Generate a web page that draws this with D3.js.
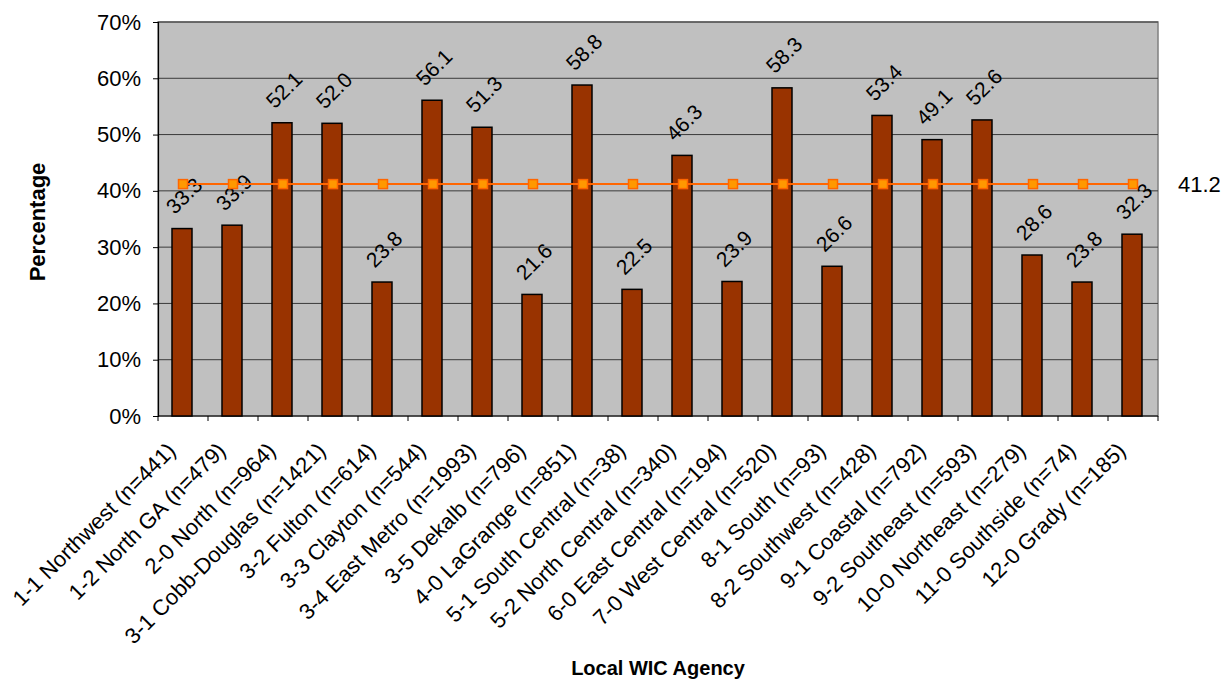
<!DOCTYPE html>
<html>
<head>
<meta charset="utf-8">
<script src="https://cdn.jsdelivr.net/npm/d3@7"></script>
<style>
  html, body { margin: 0; padding: 0; background: #ffffff; }
  svg { display: block; font-family: "Liberation Sans", Arial, sans-serif; }
</style>
</head>
<body>
<svg id="chart" width="1231" height="681"></svg>
<script>
// Local WIC agencies, with sample sizes
const categories = [
  "1-1 Northwest (n=441)", "1-2 North GA (n=479)", "2-0 North (n=964)",
  "3-1 Cobb-Douglas (n=1421)", "3-2 Fulton (n=614)", "3-3 Clayton (n=544)",
  "3-4 East Metro (n=1993)", "3-5 Dekalb (n=796)", "4-0 LaGrange (n=851)",
  "5-1 South Central (n=38)", "5-2 North Central (n=340)", "6-0 East Central (n=194)",
  "7-0 West Central (n=520)", "8-1 South (n=93)", "8-2 Southwest (n=428)",
  "9-1 Coastal (n=792)", "9-2 Southeast (n=593)", "10-0 Northeast (n=279)",
  "11-0 Southside (n=74)", "12-0 Grady (n=185)"
];
// Percentage per agency
const agencyValues = [
  33.3, 33.9, 52.1, 52.0, 23.8, 56.1, 51.3, 21.6, 58.8, 22.5,
  46.3, 23.9, 58.3, 26.6, 53.4, 49.1, 52.6, 28.6, 23.8, 32.3
];
// State-wide average, repeated across every agency
const stateAverage = 41.2;
const averageValues = categories.map(() => stateAverage);
const yTicks = [0, 10, 20, 30, 40, 50, 60, 70];

const svg = d3.select("#chart");
const plot = { left: 158, right: 1158, top: 22, bottom: 416 };

const x = d3.scaleBand()
  .domain(categories)
  .range([plot.left, plot.right])
  .paddingInner(0.6)
  .paddingOuter(0.3);
const y = d3.scaleLinear().domain([0, 70]).range([plot.bottom, plot.top]);
const step = x.step();
const cx = c => x(c) + x.bandwidth() / 2;

// Plot background
svg.append("rect")
  .attr("x", plot.left).attr("y", plot.top)
  .attr("width", plot.right - plot.left).attr("height", plot.bottom - plot.top)
  .attr("fill", "#c0c0c0").attr("stroke", "#808080").attr("stroke-width", 1.5);

// Horizontal gridlines
svg.append("g").selectAll("line").data(yTicks.slice(1)).join("line")
  .attr("x1", plot.left).attr("x2", plot.right)
  .attr("y1", d => y(d)).attr("y2", d => y(d))
  .attr("stroke", "#3a3a3a").attr("stroke-width", 1);

// Y axis
const yAxis = svg.append("g")
  .attr("transform", `translate(${plot.left},0)`)
  .call(d3.axisLeft(y).tickValues(yTicks).tickFormat(d => d + "%").tickSize(5).tickPadding(12));
yAxis.select(".domain").attr("stroke", "#000").attr("stroke-width", 1.2);
yAxis.selectAll(".tick line").attr("stroke", "#000");
yAxis.selectAll("text").attr("font-size", 22).attr("fill", "#000")
  .attr("font-family", "Liberation Sans, Arial, sans-serif");

// X axis line and tick marks between categories
const xg = svg.append("g");
xg.append("line")
  .attr("x1", plot.left).attr("x2", plot.right)
  .attr("y1", plot.bottom).attr("y2", plot.bottom)
  .attr("stroke", "#000").attr("stroke-width", 1.2);
xg.selectAll("line.tick").data(d3.range(categories.length + 1)).join("line")
  .attr("class", "tick")
  .attr("x1", i => plot.left + i * step).attr("x2", i => plot.left + i * step)
  .attr("y1", plot.bottom).attr("y2", plot.bottom + 5)
  .attr("stroke", "#000");

// Category labels, rotated
xg.selectAll("text").data(categories).join("text")
  .attr("transform", d => `translate(${cx(d) - 6},${plot.bottom + 36}) rotate(-45)`)
  .attr("text-anchor", "end")
  .attr("font-size", 22)
  .attr("fill", "#000")
  .text(d => d);

// Bars
svg.append("g").selectAll("rect").data(agencyValues).join("rect")
  .attr("x", (d, i) => x(categories[i]) - 1)
  .attr("y", d => y(d))
  .attr("width", x.bandwidth())
  .attr("height", d => y(0) - y(d))
  .attr("fill", "#993300")
  .attr("stroke", "#000")
  .attr("stroke-width", 1.5);

// Bar value labels, rotated
svg.append("g").selectAll("text").data(agencyValues).join("text")
  .attr("transform", (d, i) => `translate(${cx(categories[i]) + 1},${y(d) - 33}) rotate(-45)`)
  .attr("text-anchor", "middle")
  .attr("dominant-baseline", "central")
  .attr("font-size", 21)
  .attr("fill", "#000")
  .text(d => d.toFixed(1));

// Average line with square markers
const line = d3.line()
  .x((d, i) => cx(categories[i]))
  .y(d => y(d));
svg.append("path")
  .datum(averageValues)
  .attr("d", line)
  .attr("fill", "none")
  .attr("stroke", "#ff6600")
  .attr("stroke-width", 2);
svg.append("g").selectAll("rect").data(averageValues).join("rect")
  .attr("x", (d, i) => cx(categories[i]) - 4.5)
  .attr("y", d => y(d) - 4.5)
  .attr("width", 9).attr("height", 9)
  .attr("fill", "#ff9900")
  .attr("stroke", "#ff6600")
  .attr("stroke-width", 1.5);

// Average value label at the right of the plot
svg.append("text")
  .attr("x", 1178)
  .attr("y", y(stateAverage))
  .attr("dominant-baseline", "central")
  .attr("font-size", 22)
  .attr("fill", "#000")
  .text(stateAverage.toFixed(1));

// Axis titles
svg.append("text")
  .attr("transform", `translate(45,${(plot.top + plot.bottom) / 2 + 3}) rotate(-90)`)
  .attr("text-anchor", "middle")
  .attr("font-size", 22)
  .attr("font-weight", "bold")
  .attr("fill", "#000")
  .text("Percentage");
svg.append("text")
  .attr("x", 658)
  .attr("y", 675)
  .attr("text-anchor", "middle")
  .attr("font-size", 20)
  .attr("font-weight", "bold")
  .attr("fill", "#000")
  .text("Local WIC Agency");
</script>
</body>
</html>
